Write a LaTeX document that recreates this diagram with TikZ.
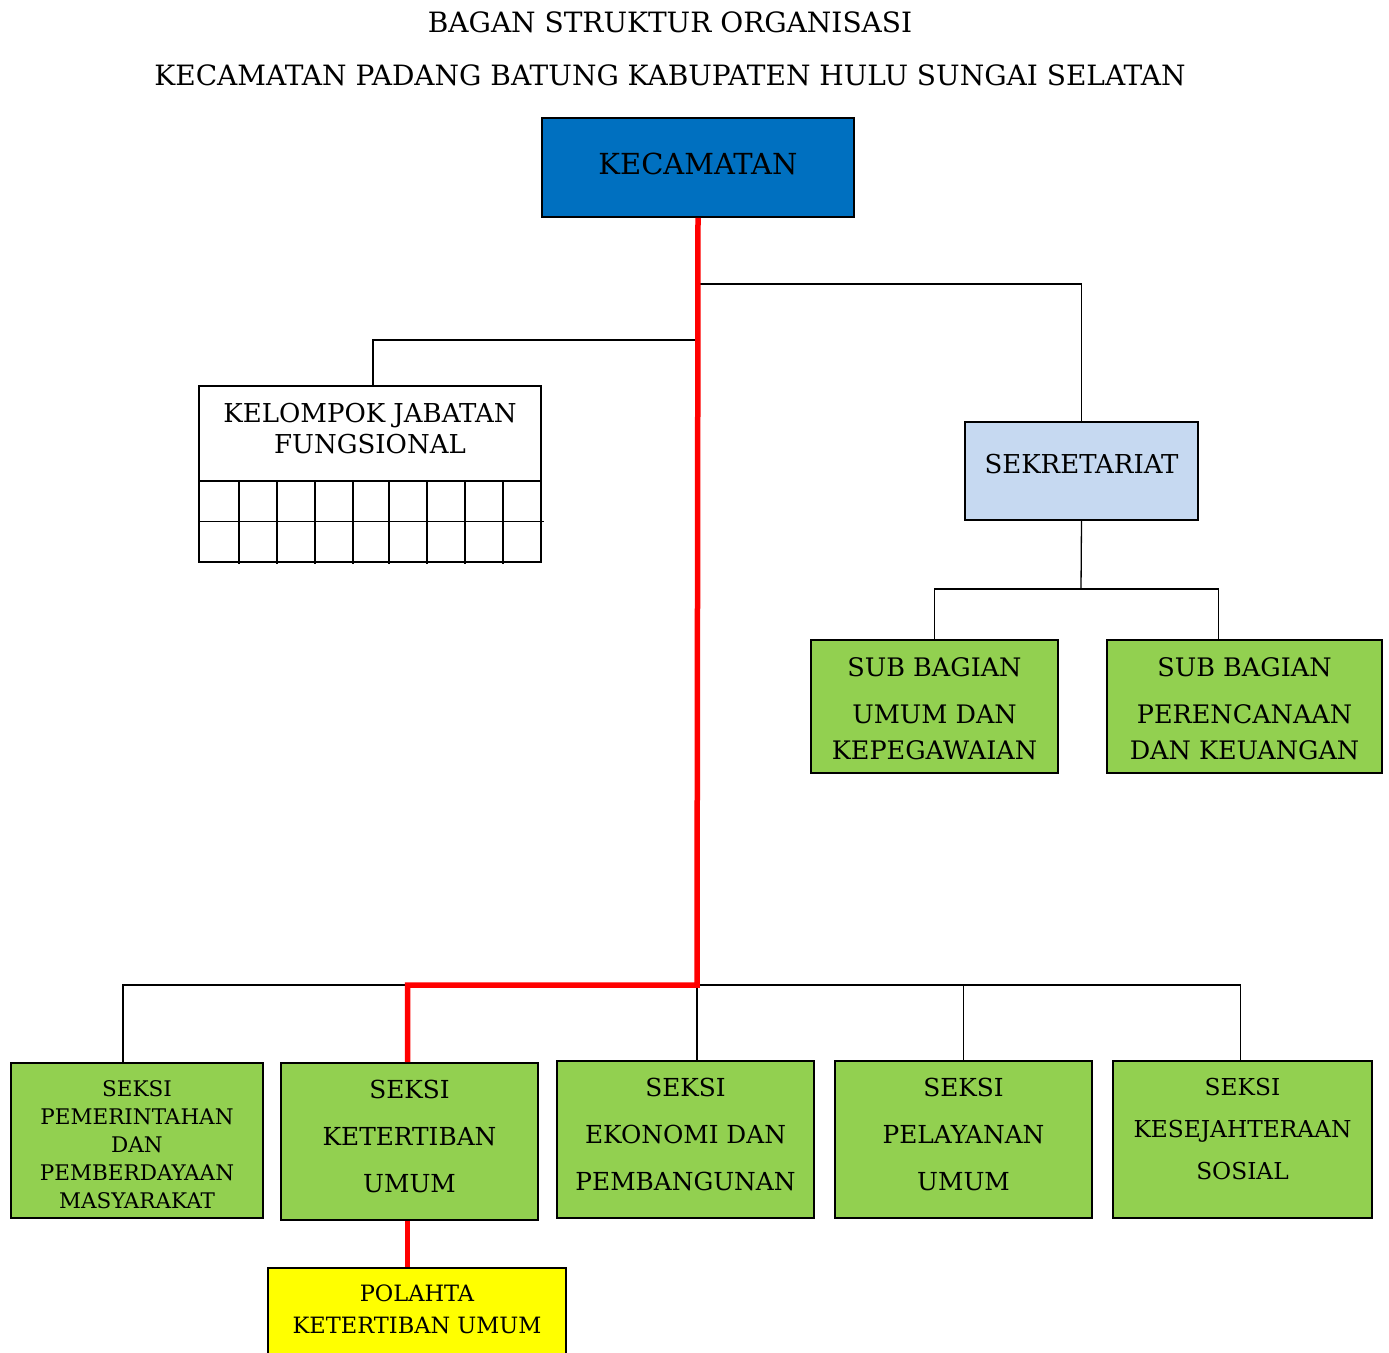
\documentclass[tikz,border=0pt]{standalone}
\usepackage{fontspec}
\setmainfont{DejaVu Serif}
\definecolor{camatblue}{HTML}{0070C0}
\definecolor{sekblue}{HTML}{C6D9F1}
\definecolor{seksigreen}{HTML}{92D050}
\definecolor{polahtayellow}{HTML}{FFFF00}
\begin{document}
\begin{tikzpicture}[x=1pt,y=-1pt,
    unitbox/.style={draw, line width=1.6pt, align=center, inner sep=0pt},
    link/.style={line width=1.3pt},
    redlink/.style={red, line width=5.5pt}]
    \useasboundingbox (0,0) rectangle (1389,1352);
    \node[font=\fontsize{28}{32}\selectfont] (title1) at (670,22) {BAGAN STRUKTUR ORGANISASI};
    \node[font=\fontsize{28}{32}\selectfont] (title2) at (670,75) {KECAMATAN PADANG BATUNG KABUPATEN HULU SUNGAI SELATAN};
    \node[unitbox, fill=camatblue, minimum width=312pt, minimum height=99pt,
      font=\fontsize{29}{32}\selectfont, text depth=8pt] (kecamatan) at (698,167.5) {KECAMATAN};
    \node[unitbox, minimum width=342pt, minimum height=95pt,
      font=\fontsize{26}{31}\selectfont, text depth=10pt] (fungsional) at (370,433.5) {KELOMPOK JABATAN\\FUNGSIONAL};
    \node[unitbox, minimum width=342pt, minimum height=81pt] (fungsigrid) at (370,521.5) {};
    \node[unitbox, fill=sekblue, minimum width=233pt, minimum height=98pt,
      font=\fontsize{26}{31}\selectfont, text depth=14pt] (sekretariat) at (1081.5,471) {SEKRETARIAT};
    \node[unitbox, fill=seksigreen, minimum width=247pt, minimum height=133pt,
      font=\fontsize{25.5}{36}\selectfont, text height=105.5pt] (subumum) at (934.5,706.5) {SUB BAGIAN\\[11pt]UMUM DAN\\KEPEGAWAIAN};
    \node[unitbox, fill=seksigreen, minimum width=275pt, minimum height=133pt,
      font=\fontsize{25.5}{36}\selectfont, text height=105.5pt] (subrencana) at (1244.5,706.5) {SUB BAGIAN\\[11pt]PERENCANAAN\\DAN KEUANGAN};
    \node[unitbox, fill=seksigreen, minimum width=252pt, minimum height=155pt,
      font=\fontsize{21.5}{28}\selectfont, text height=136pt] (seksi1) at (137,1140.5) {SEKSI\\PEMERINTAHAN\\DAN\\PEMBERDAYAAN\\MASYARAKAT};
    \node[unitbox, fill=seksigreen, minimum width=257pt, minimum height=157pt,
      font=\fontsize{24.8}{47}\selectfont, text depth=10pt] (seksi2) at (409.5,1141.5) {SEKSI\\KETERTIBAN\\UMUM};
    \node[unitbox, fill=seksigreen, minimum width=257pt, minimum height=157pt,
      font=\fontsize{24.8}{47}\selectfont, text depth=10pt] (seksi3) at (685.5,1139.5) {SEKSI\\EKONOMI DAN\\PEMBANGUNAN};
    \node[unitbox, fill=seksigreen, minimum width=257pt, minimum height=157pt,
      font=\fontsize{24.8}{47}\selectfont, text depth=10pt] (seksi4) at (963.5,1139.5) {SEKSI\\PELAYANAN\\UMUM};
    \node[unitbox, fill=seksigreen, minimum width=259pt, minimum height=157pt,
      font=\fontsize{23.3}{42}\selectfont, text depth=22pt] (seksi5) at (1242.5,1139.5) {SEKSI\\KESEJAHTERAAN\\SOSIAL};
    \node[unitbox, fill=polahtayellow, minimum width=298pt, minimum height=100pt,
      font=\fontsize{22.5}{32}\selectfont, text depth=18pt] (polahta) at (417,1318) {POLAHTA\\KETERTIBAN UMUM};
    % grid of the fungsional box
    \foreach \x in {239,277,315,353,389,427,465,503}
      \draw[link] (\x,481) -- (\x,564);
    \draw[link] (fungsigrid.west) -- ([xshift=2pt]fungsigrid.east);
    % branch points on the main line
    \coordinate (upbranch) at (697,284);
    \coordinate (midbranch) at (697,340);
    \coordinate (lowbus) at (697,985);
    \coordinate (subbus) at (1081,589);
    \draw[link] (upbranch) -| (sekretariat.north);
    \draw[link] (midbranch) -| ([xshift=3pt]fungsional.north);
    \draw[link] (sekretariat.south) -- (subbus);
    \draw[link] (subumum.north) |- ([xshift=-26pt]subrencana.north |- subbus) -- ([xshift=-26pt]subrencana.north);
    \draw[link] ([xshift=-14pt]seksi1.north) |- ([xshift=-2pt]seksi5.north |- lowbus) -- ([xshift=-2pt]seksi5.north);
    \draw[link] (lowbus) -- (lowbus |- seksi3.north);
    \draw[link] (seksi4.north |- lowbus) -- (seksi4.north);
    \draw[redlink] (kecamatan.south) -- (lowbus) -| ([xshift=-2pt]seksi2.north);
    \draw[redlink] ([xshift=-2pt]seksi2.south) -- ([xshift=-2pt]seksi2.south |- polahta.north);
  \end{tikzpicture}
\end{document}
